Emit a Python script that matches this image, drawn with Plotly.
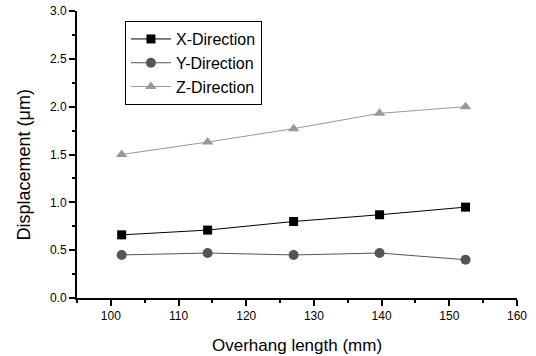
import plotly.graph_objects as go

overhang = [101.6, 114.3, 127.0, 139.7, 152.4]
x_dir = [0.66, 0.71, 0.80, 0.87, 0.95]
y_dir = [0.45, 0.47, 0.45, 0.47, 0.40]
z_dir = [1.50, 1.63, 1.77, 1.93, 2.00]

FONT = '"Liberation Sans", Arial, sans-serif'

fig = go.Figure()
fig.add_trace(go.Scatter(x=overhang, y=x_dir, name="X-Direction", mode="lines+markers",
                         line=dict(color="#000000", width=1),
                         marker=dict(symbol="square", size=9, color="#000000")))
fig.add_trace(go.Scatter(x=overhang, y=y_dir, name="Y-Direction", mode="lines+markers",
                         line=dict(color="#555555", width=1),
                         marker=dict(symbol="circle", size=10, color="#555555")))
fig.add_trace(go.Scatter(x=overhang, y=z_dir, name="Z-Direction", mode="lines+markers",
                         line=dict(color="#999999", width=1),
                         marker=dict(symbol="triangle-up", size=10, color="#999999")))

fig.update_layout(
    width=536, height=356,
    margin=dict(l=77, r=19, t=11, b=58, autoexpand=False),
    paper_bgcolor="white", plot_bgcolor="white",
    font=dict(family=FONT, color="#000000", size=12),
    showlegend=True,
    legend=dict(x=0.109, y=0.965, xanchor="left", yanchor="top",
                bordercolor="#000000", borderwidth=1, bgcolor="white",
                font=dict(size=16, family=FONT), itemwidth=40,
                tracegroupgap=0),
    xaxis=dict(range=[95, 160], tickvals=[100, 110, 120, 130, 140, 150, 160],
               ticks="outside", ticklen=6, tickwidth=1.5, tickcolor="#000000",
               showline=True, linecolor="#000000", linewidth=2,
               showgrid=False, zeroline=False, automargin=False,
               minor=dict(dtick=5, tick0=95, ticks="outside", ticklen=3, tickwidth=1.5, tickcolor="#000000"),
               tickfont=dict(size=12, family=FONT)),
    yaxis=dict(range=[0, 3.0], tickvals=[0, 0.5, 1.0, 1.5, 2.0, 2.5, 3.0],
               ticktext=["0.0", "0.5", "1.0", "1.5", "2.0", "2.5", "3.0"],
               ticks="outside", ticklen=6, tickwidth=1.5, tickcolor="#000000",
               showline=True, linecolor="#000000", linewidth=2,
               showgrid=False, zeroline=False, automargin=False,
               minor=dict(dtick=0.25, tick0=0, ticks="outside", ticklen=3, tickwidth=1.5, tickcolor="#000000"),
               tickfont=dict(size=12, family=FONT)),
    annotations=[
        dict(text="Overhang length (mm)", xref="paper", yref="paper", x=0.5, y=0,
             xanchor="center", yanchor="middle", yshift=-47, showarrow=False,
             font=dict(size=17, family=FONT)),
        dict(text="Displacement (μm)", xref="paper", yref="paper", x=0, y=0.5,
             xanchor="center", yanchor="middle", xshift=-54, yshift=-11, textangle=-90, showarrow=False,
             font=dict(size=18, family=FONT)),
    ],
)

fig.write_html("out.html")
